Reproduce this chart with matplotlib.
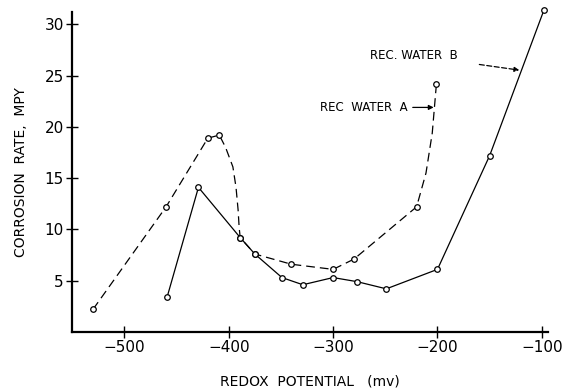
import matplotlib
matplotlib.use('Agg')
import matplotlib.pyplot as plt

a_mv = [-530, -460, -420, -409, -403, -396, -393, -391, -390, -389, -375,
        -340, -300, -280, -220, -211, -205, -201]
a_mpy = [2.2, 12.2, 18.9, 19.2, 18.0, 16.1, 14.1, 11.9, 10.2, 9.2, 7.6,
         6.6, 6.1, 7.1, 12.2, 15.5, 19.4, 24.2]
a_marked = [0, 1, 2, 3, 9, 10, 11, 12, 13, 14, 17]

# rec. water B (solid)
b_mv = [-459, -429, -389, -375, -349, -329, -300, -277, -249, -200, -150, -98]
b_mpy = [3.4, 14.1, 9.2, 7.6, 5.3, 4.6, 5.3, 4.9, 4.2, 6.1, 17.2, 31.4]

xticks = [-500, -400, -300, -200, -100]
yticks = [5, 10, 15, 20, 25, 30]

plt.rcParams['font.family'] = 'DejaVu Sans'
fig = plt.figure(figsize=(5.68, 3.90), dpi=100)
ax = fig.add_axes([0.127, 0.149, 0.838, 0.82])

ax.plot(a_mv, a_mpy, color='black', lw=0.9, dashes=(7, 4),
        marker='o', markevery=a_marked, ms=4, mfc='white', mec='black', mew=0.9,
        clip_on=False)
ax.plot(b_mv, b_mpy, color='black', lw=0.9,
        marker='o', ms=4, mfc='white', mec='black', mew=0.9, clip_on=False)

ax.set_xlim(-550, -94)
ax.set_ylim(0, 31.2)
ax.set_xticks(xticks)
ax.set_xticklabels(['\u2212%d' % -v for v in xticks])
ax.set_yticks(yticks)
for s in ['top', 'right']:
    ax.spines[s].set_visible(False)
for s in ['left', 'bottom']:
    ax.spines[s].set_linewidth(1.6)
ax.tick_params(direction='inout', length=8, width=1.0, labelsize=11, pad=2)

ax.set_xlabel('REDOX  POTENTIAL   (mv)', fontsize=10, labelpad=14)
ax.set_ylabel('CORROSION  RATE,  MPY', fontsize=10, labelpad=12)

ax.annotate('REC  WATER  A', xy=(-201, 21.9), xytext=(-229, 21.9),
            fontsize=8.5, ha='right', va='center',
            arrowprops=dict(arrowstyle='-|>', color='black', lw=0.9, mutation_scale=7))
ax.annotate('REC. WATER  B', xy=(-119, 25.5), xytext=(-181, 27.0),
            fontsize=8.5, ha='right', va='center',
            arrowprops=dict(arrowstyle='-|>', color='black', lw=0.9, mutation_scale=7,
                            shrinkA=14, linestyle=(0, (4, 2))))

fig.savefig('out.png', dpi=100)
